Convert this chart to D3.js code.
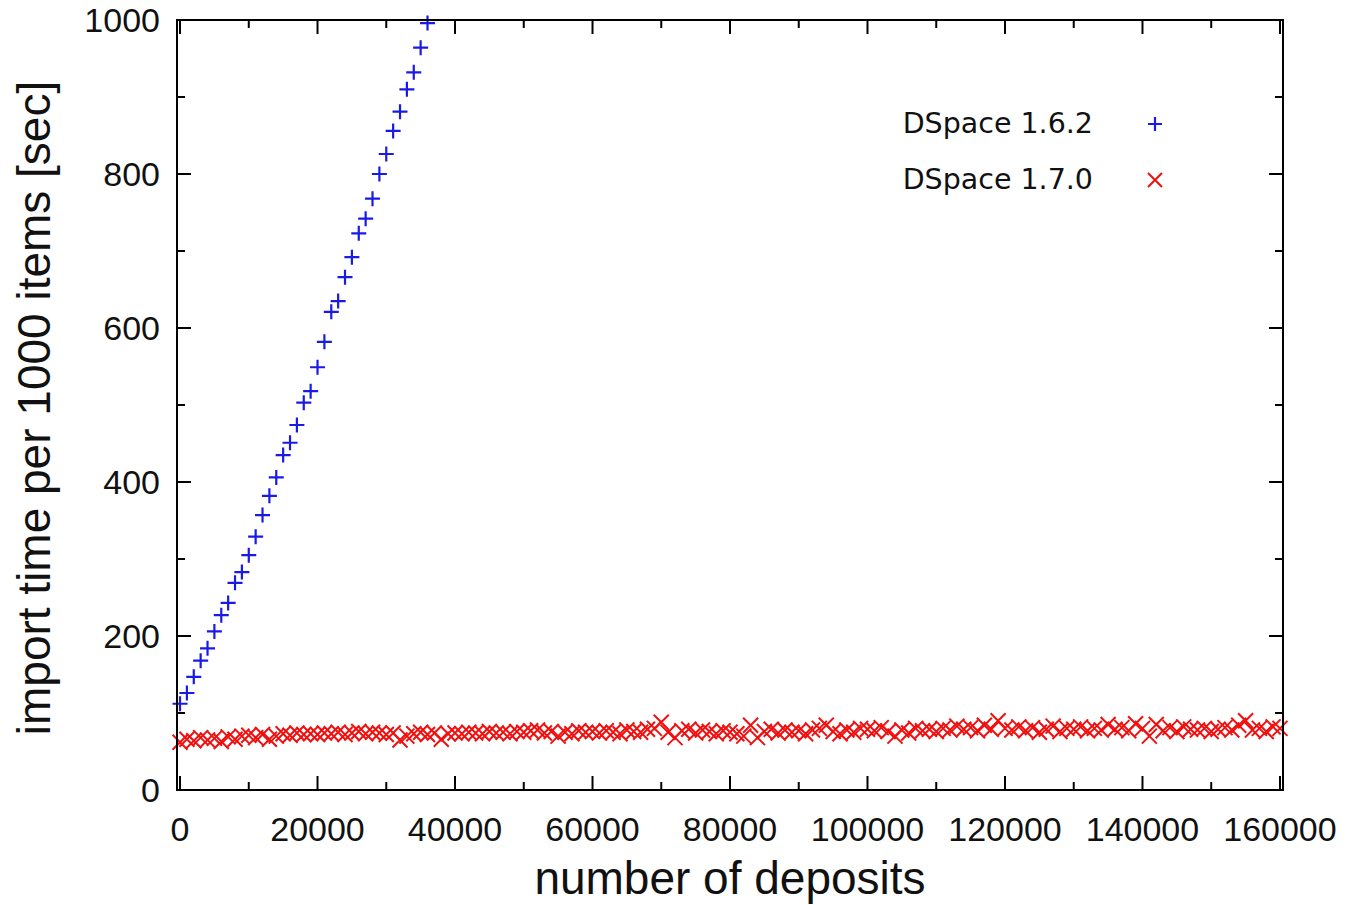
<!DOCTYPE html>
<html><head><meta charset="utf-8">
<script src="https://cdn.jsdelivr.net/npm/d3@7"></script>
<style>body{margin:0;background:#fff}</style>
</head><body><svg id="c" width="1346" height="905"></svg>
<script>
const blueX = [0,1000,2000,3000,4000,5000,6000,7000,8000,9000,10000,11000,12000,13000,14000,15000,16000,17000,18000,19000,20000,21000,22000,23000,24000,25000,26000,27000,28000,29000,30000,31000,32000,33000,34000,35000,36000];
const blueY = [112,126,147,168,184,206,227,243,269,283,305,329,357,382,406,435,451,474,503,518,549,582,621,635,666,692,723,742,768,800,826,856,881,910,932,964,996];
const redY = [62,66,64,68,65,67,63,69,66,70,
71,68,72,66,70,73,71,74,72,73,
72,74,73,75,72,74,76,73,75,74,
72,74,65,70,73,75,72,74,66,73,
74,73,75,74,73,76,74,75,73,76,
75,77,78,74,76,70,75,73,77,75,
76,74,77,75,73,78,76,75,79,80,
88,75,68,77,79,74,78,76,73,77,
75,73,70,84,68,76,79,74,78,75,
77,73,78,80,84,76,73,78,75,80,
79,77,81,76,70,78,74,80,77,79,
76,80,78,83,79,81,77,84,79,90,
80,78,82,77,81,75,79,83,76,80,
79,82,77,80,78,85,79,81,77,86,
80,70,85,77,81,76,82,79,78,80,
76,79,81,78,84,90,78,80,76,82,
80];
const redX = redY.map((d,i)=>i*1000);
const xTicks = [0,20000,40000,60000,80000,100000,120000,140000,160000];
const yTicks = [0,200,400,600,800,1000];
const seriesNames = ["DSpace 1.6.2","DSpace 1.7.0"];

const svg = d3.select("#c");
const L=177,R=1283,T=20,B=790;
const x = d3.scaleLinear().domain([-440,160440]).range([L,R]);
const y = d3.scaleLinear().domain([0,1000]).range([B,T]);
const xMinor = d3.range(10000,160000,20000);
const yMinor = d3.range(100,1000,200);

const g = svg.append("g");
const tk = g.append("g").attr("stroke","#000").attr("stroke-width",2);
xTicks.forEach(v=>{tk.append("line").attr("x1",x(v)).attr("x2",x(v)).attr("y1",B).attr("y2",B-14);
 tk.append("line").attr("x1",x(v)).attr("x2",x(v)).attr("y1",T).attr("y2",T+14);});
xMinor.forEach(v=>{tk.append("line").attr("x1",x(v)).attr("x2",x(v)).attr("y1",B).attr("y2",B-8);
 tk.append("line").attr("x1",x(v)).attr("x2",x(v)).attr("y1",T).attr("y2",T+8);});
yTicks.forEach(v=>{tk.append("line").attr("y1",y(v)).attr("y2",y(v)).attr("x1",L).attr("x2",L+14);
 tk.append("line").attr("y1",y(v)).attr("y2",y(v)).attr("x1",R).attr("x2",R-14);});
yMinor.forEach(v=>{tk.append("line").attr("y1",y(v)).attr("y2",y(v)).attr("x1",L).attr("x2",L+8);
 tk.append("line").attr("y1",y(v)).attr("y2",y(v)).attr("x1",R).attr("x2",R-8);});

const tf = "'Liberation Sans', Arial, sans-serif";
g.selectAll(".xl").data(xTicks).join("text").attr("x",d=>x(d)).attr("y",841)
 .attr("text-anchor","middle").attr("font-family",tf).attr("font-size",34).attr("fill","#111").text(d=>d);
g.selectAll(".yl").data(yTicks).join("text").attr("x",160).attr("y",d=>y(d)+12)
 .attr("text-anchor","end").attr("font-family",tf).attr("font-size",34).attr("fill","#111").text(d=>d);

g.append("text").attr("x",730).attr("y",894).attr("text-anchor","middle")
 .attr("font-family",tf).attr("font-size",46).attr("fill","#111").text("number of deposits");
g.append("text").attr("transform",`translate(50,408) rotate(-90)`).attr("text-anchor","middle")
 .attr("font-family",tf).attr("font-size",46).attr("fill","#111").text("import time per 1000 items [sec]");

const plus = (s,cx,cy,h,col)=>s.append("path").attr("d",`M${cx-h},${cy}H${cx+h}M${cx},${cy-h}V${cy+h}`).attr("stroke",col).attr("stroke-width",2.2).attr("fill","none");
const cross = (s,cx,cy,h,col)=>s.append("path").attr("d",`M${cx-h},${cy-h}L${cx+h},${cy+h}M${cx-h},${cy+h}L${cx+h},${cy-h}`).attr("stroke",col).attr("stroke-width",2).attr("fill","none");
const blue="#1a1ae6", red="#f01010";
const pg = svg.append("g");
redX.forEach((v,i)=>cross(pg,x(v),y(redY[i]),7.5,red));
blueX.forEach((v,i)=>plus(pg,x(v),y(blueY[i]),7.5,blue));

svg.append("rect").attr("x",L).attr("y",T).attr("width",R-L).attr("height",B-T)
 .attr("fill","none").attr("stroke","#000").attr("stroke-width",2);

const lf = "'DejaVu Sans', sans-serif";
const lg = svg.append("g");
[[123,blue,plus],[179,red,cross]].forEach((r,i)=>{
 lg.append("text").attr("x",1093).attr("y",r[0]+10).attr("text-anchor","end").attr("font-family",lf)
  .attr("font-size",28.5).attr("fill","#111").text(seriesNames[i]);
 r[2](lg,1155,r[0]+1,7,r[1]);
});
</script></body></html>
